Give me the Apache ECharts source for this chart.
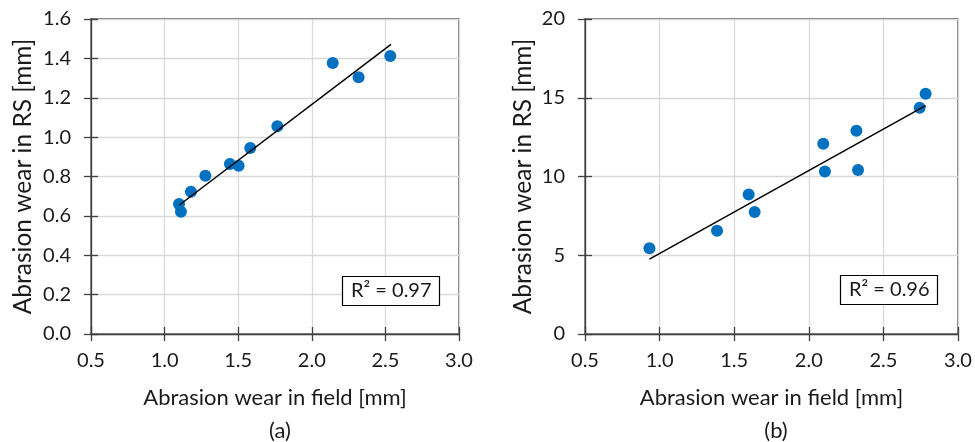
<!DOCTYPE html>
<html>
<head>
<meta charset="utf-8">
<script src="https://cdn.jsdelivr.net/npm/echarts@6/dist/echarts.min.js"></script>
<style>
html,body{margin:0;padding:0;background:#fff;}
#c{width:975px;height:442px;}
</style>
</head>
<body>
<div id="c"></div>
<script>
// Panel (a)
var fieldA = [1.098, 1.111, 1.179, 1.277, 1.444, 1.503, 1.582, 1.766, 2.142, 2.318, 2.533];
var rsA    = [0.660, 0.621, 0.723, 0.804, 0.863, 0.855, 0.945, 1.055, 1.376, 1.304, 1.412];
var trendAx = [1.098, 2.538];
var trendAy = [0.654, 1.471];
var r2A = "R\u00B2 = 0.97";
// Panel (b)
var fieldB = [0.932, 1.385, 1.597, 1.637, 2.097, 2.108, 2.319, 2.330, 2.743, 2.783];
var rsB    = [5.45, 6.55, 8.86, 7.74, 12.08, 10.32, 12.91, 10.41, 14.37, 15.26];
var trendBx = [0.932, 2.783];
var trendBy = [4.75, 14.50];
var r2B = "R\u00B2 = 0.96";
// Axes
var xTicks = [0.5, 3.0, 0.5];        // min, max, interval
var yTicksA = [0, 1.6, 0.2];
var yTicksB = [0, 20, 5];
var xTitle = "Abrasion wear in field [mm]";
var yTitle = "Abrasion wear in RS [mm]";
var panelLabels = ["(a)", "(b)"];

function pairs(xs, ys){ return xs.map(function(x,i){ return [x, ys[i]]; }); }

var FONT = "Lato";
var axisCol = "#404040";
var txtCol = "#1a1a1a";

function xAxisMain(gi){
  return {
    type:'value', gridIndex:gi, min:xTicks[0], max:xTicks[1], interval:xTicks[2], position:'bottom',
    axisLine:{show:true, lineStyle:{color:axisCol, width:1.3}},
    axisTick:{show:true, inside:false, length:7, lineStyle:{color:axisCol, width:1.3}},
    axisLabel:{show:true, margin:17, fontFamily:FONT, fontSize:20, color:txtCol,
      formatter:function(v){ return v.toFixed(1); }},
    splitLine:{show:true, lineStyle:{color:'#d9d9d9', width:1.3}},
    name:xTitle, nameLocation:'middle', nameGap:53,
    nameTextStyle:{fontFamily:FONT, fontSize:22, color:txtCol}
  };
}
function xAxisInner(gi){
  return {
    type:'value', gridIndex:gi, min:xTicks[0], max:xTicks[1], interval:xTicks[2], position:'bottom',
    axisLine:{show:false}, axisLabel:{show:false}, splitLine:{show:false},
    axisTick:{show:true, inside:true, length:7, lineStyle:{color:axisCol, width:1.3}}
  };
}
function yAxisMain(gi, t, dec, gap){
  return {
    type:'value', gridIndex:gi, min:t[0], max:t[1], interval:t[2], position:'left',
    axisLine:{show:true, lineStyle:{color:axisCol, width:1.3}},
    axisTick:{show:true, inside:false, length:7, lineStyle:{color:axisCol, width:1.3}},
    axisLabel:{show:true, margin:20, fontFamily:FONT, fontSize:20, color:txtCol,
      formatter:function(v){ return v.toFixed(dec); }},
    splitLine:{show:true, lineStyle:{color:'#d9d9d9', width:1.3}},
    name:yTitle, nameLocation:'middle', nameGap:gap,
    nameTextStyle:{fontFamily:FONT, fontSize:24.5, color:txtCol}
  };
}
function yAxisInner(gi, t){
  return {
    type:'value', gridIndex:gi, min:t[0], max:t[1], interval:t[2], position:'left',
    axisLine:{show:false}, axisLabel:{show:false}, splitLine:{show:false},
    axisTick:{show:true, inside:true, length:7, lineStyle:{color:axisCol, width:1.3}}
  };
}

var chart = echarts.init(document.getElementById('c'), null, {renderer:'canvas'});
chart.setOption({
  backgroundColor:'#fff',
  animation:false,
  title:[
    {text:r2A, left:342, top:276, padding:[5,8,5,9], borderColor:'#000', borderWidth:1.2, backgroundColor:'#fff',
     textStyle:{fontFamily:FONT, fontSize:20, fontWeight:'normal', color:txtCol}},
    {text:r2B, left:840, top:275, padding:[5,8,5,9], borderColor:'#000', borderWidth:1.2, backgroundColor:'#fff',
     textStyle:{fontFamily:FONT, fontSize:20, fontWeight:'normal', color:txtCol}},
    {text:panelLabels[0], left:275, top:415, textAlign:'center',
     textStyle:{fontFamily:FONT, fontSize:22, fontWeight:'normal', color:txtCol}},
    {text:panelLabels[1], left:771, top:415, textAlign:'center',
     textStyle:{fontFamily:FONT, fontSize:22, fontWeight:'normal', color:txtCol}}
  ],
  grid:[
    {left:91, top:19, width:368, height:315, show:true, borderColor:axisCol, borderWidth:1.3, backgroundColor:'transparent'},
    {left:585, top:19, width:373, height:315, show:true, borderColor:axisCol, borderWidth:1.3, backgroundColor:'transparent'}
  ],
  xAxis:[xAxisMain(0), xAxisInner(0), xAxisMain(1), xAxisInner(1)],
  yAxis:[yAxisMain(0, yTicksA, 1, 55), yAxisInner(0, yTicksA), yAxisMain(1, yTicksB, 0, 49), yAxisInner(1, yTicksB)],
  series:[
    {type:'line', xAxisIndex:0, yAxisIndex:0, data:pairs(trendAx, trendAy), symbol:'none',
     lineStyle:{color:'#000', width:1.5}, z:3},
    {type:'scatter', xAxisIndex:0, yAxisIndex:0, data:pairs(fieldA, rsA), symbolSize:12,
     itemStyle:{color:'#0070C0', opacity:1}, z:2},
    {type:'line', xAxisIndex:2, yAxisIndex:2, data:pairs(trendBx, trendBy), symbol:'none',
     lineStyle:{color:'#000', width:1.5}, z:3},
    {type:'scatter', xAxisIndex:2, yAxisIndex:2, data:pairs(fieldB, rsB), symbolSize:12,
     itemStyle:{color:'#0070C0', opacity:1}, z:2}
  ]
});
</script>
</body>
</html>
